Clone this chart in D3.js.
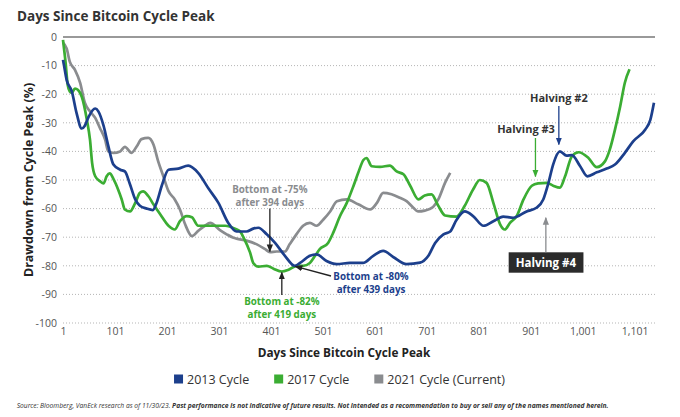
<!DOCTYPE html>
<html><head><meta charset="utf-8">
<script src="https://cdn.jsdelivr.net/npm/d3@7"></script>
<style>body{margin:0;background:#fff;} svg{display:block;font-family:"Open Sans",sans-serif;}</style>
</head><body><svg id="c" width="680" height="417"></svg>
<script>
// ---- data ----
const days2013 = [1,3,8,18,27,37,43,50,63,69,79,88,98,111,120,130,140,149,162,174,181,191,204,223,242,261,281,300,319,335,354,367,377,393,409,428,447,457,476,489,508,528,553,578,598,617,637,662,688,704,717,733,746,758,774,790,810,829,848,867,893,912,925,935,944,957,970,980,996,1010,1028,1047,1063,1082,1098,1121,1131,1138];
const vals2013 = [-8,-10,-15,-19,-26.5,-32,-31,-28,-25,-26,-31,-38,-44.6,-46.4,-47,-51.6,-56.8,-59,-60,-60.5,-58,-52,-46.4,-46,-45,-47.5,-53,-58,-65,-68,-68,-67,-66.7,-69,-72,-76.5,-80,-79,-76.5,-76,-78.3,-79.4,-79,-79,-76.5,-74.8,-77,-79.4,-78.9,-76.5,-72,-69,-68,-64,-61,-62.6,-66,-64.4,-62.8,-63.2,-61,-59.7,-56.8,-51,-44.6,-40,-41.5,-41.3,-45.2,-48.7,-47.3,-46,-44.6,-40.5,-36.5,-32.4,-29,-23];
const days2017 = [1,6,10,14,18,24,30,37,47,53,57,63,72,79,85,91,98,107,114,120,130,140,149,155,165,175,188,204,216,226,239,249,261,287,313,332,342,348,361,367,377,393,406,422,435,451,463,476,486,495,511,521,534,547,560,569,579,585,595,611,630,643,656,669,685,697,710,723,736,758,774,790,803,816,829,842,851,861,874,887,903,915,932,944,957,967,980,993,1012,1028,1044,1053,1063,1073,1082,1091];
const vals2017 = [-1,-9,-16.7,-19,-19.5,-18,-18.5,-20.8,-29,-36,-44,-48.7,-50.4,-51.2,-48.7,-47.7,-49.6,-53.3,-56.8,-60.3,-61,-58,-54.5,-54,-55.6,-58.5,-62,-66,-67.3,-64.4,-62.6,-63,-66,-66,-66,-67,-68,-70,-75.4,-79,-80.3,-80,-81,-82,-81.4,-80,-80,-79,-76.5,-74.2,-72,-68.4,-62.6,-58,-52,-47.5,-43,-42.3,-45.2,-45.4,-45,-47,-48,-52,-56.8,-55.4,-55,-59,-62.4,-62.8,-59,-53.3,-50,-51,-58,-65.5,-67.3,-65,-62.6,-56.8,-52,-51.2,-51,-52,-52.7,-48.7,-41.7,-40.3,-42.3,-45.5,-43.4,-39.4,-32.4,-24.3,-16,-11.3];
const days2021 = [1,8,14,24,34,43,53,63,72,82,88,98,111,120,133,143,152,165,175,184,194,204,216,226,236,249,261,274,284,303,316,329,335,354,374,390,399,412,428,437,450,463,476,489,502,515,528,547,569,592,605,617,633,649,662,675,684,697,713,723,736,746];
const vals2021 = [-2,-4,-8.6,-11.5,-16,-23,-26,-28.3,-31.8,-35.9,-40,-40.5,-40,-38.4,-40.5,-38.2,-35.7,-35.3,-37.6,-43.4,-48.7,-53.9,-56.8,-60.3,-65.5,-69.6,-67.8,-66,-65,-67.5,-69,-70.2,-70.5,-71.2,-72.5,-74.2,-75.2,-75,-75,-72.5,-69,-66,-65,-66,-63.8,-61,-57.4,-56.8,-58.5,-60.3,-58,-54.5,-55,-56.2,-57.4,-59.7,-61,-60.7,-59.4,-56.8,-51,-47.5];
const seriesNames = ["2013 Cycle","2017 Cycle","2021 Cycle (Current)"];
const xTicks = [1,101,201,301,401,501,601,701,801,901,1001,1101];
const yTicks = [0,-10,-20,-30,-40,-50,-60,-70,-80,-90,-100];
const title = "Days Since Bitcoin Cycle Peak";
const xTitle = "Days Since Bitcoin Cycle Peak";
const yTitle = "Drawdown from Cycle Peak (%)";
const sourceA = "Source: Bloomberg, VanEck research as of 11/30/23. ";
const sourceB = "Past performance is not indicative of future results. Not intended as a recommendation to buy or sell any of the names mentioned herein.";

const C13 = "#1c3f8c", C17 = "#3bad33", C21 = "#8a8c8f";

const svg = d3.select("#c");
const x = d3.scaleLinear().domain([1,1140]).range([63,655]);
const y = d3.scaleLinear().domain([0,-100]).range([37,323]);

// defs: arrow markers
const defs = svg.append("defs");
function marker(id, color){
  defs.append("marker").attr("id",id).attr("viewBox","0 0 10 10").attr("refX",9).attr("refY",5)
    .attr("markerWidth",6).attr("markerHeight",6).attr("orient","auto-start-reverse")
    .append("path").attr("d","M0,1 L10,5 L0,9 Z").attr("fill",color);
}
marker("aBlack","#222"); marker("aBlue",C13); marker("aGreen",C17); marker("aGray","#8a8c8f");

// title
svg.append("text").attr("x",17).attr("y",21).attr("font-size",13.5).attr("font-weight",700).attr("fill","#333").text(title);

// gridlines
svg.append("g").selectAll("line").data(yTicks.filter(d=>d!==0)).join("line")
  .attr("x1",x.range()[0]).attr("x2",x.range()[1]).attr("y1",d=>y(d)).attr("y2",d=>y(d))
  .attr("stroke","#b5b5b5").attr("stroke-width",1).attr("stroke-dasharray","1,2");
svg.append("line").attr("x1",x.range()[0]).attr("x2",x.range()[1]).attr("y1",y(0)).attr("y2",y(0))
  .attr("stroke","#777").attr("stroke-width",1.3);

// y axis
const yAxis = d3.axisLeft(y).tickValues(yTicks).tickSize(0).tickPadding(6).tickFormat(d=>String(d));
const gy = svg.append("g").attr("transform",`translate(${x.range()[0]},0)`).call(yAxis);
gy.select(".domain").remove();
gy.selectAll("text").attr("font-size",10.5).attr("fill","#555").attr("font-family","Open Sans");

// x axis
const xAxis = d3.axisBottom(x).tickValues(xTicks).tickSize(0).tickPadding(5).tickFormat(d3.format(","));
const gx = svg.append("g").attr("transform",`translate(0,${y(-100)})`).call(xAxis);
gx.select(".domain").remove();
gx.selectAll("text").attr("font-size",10.5).attr("fill","#555").attr("font-family","Open Sans");

// axis titles
svg.append("text").attr("x",344).attr("y",357).attr("text-anchor","middle").attr("font-size",11.8).attr("font-weight",700).attr("fill","#222").text(xTitle);
svg.append("text").attr("transform",`translate(33,${(y(0)+y(-100))/2}) rotate(-90)`).attr("text-anchor","middle")
  .attr("font-size",12.5).attr("font-weight",700).attr("fill","#222").text(yTitle);

// lines
const line = d3.line().x(d=>x(d[0])).y(d=>y(d[1])).curve(d3.curveMonotoneX);
const series = [
  {days:days2021, vals:vals2021, color:C21},
  {days:days2017, vals:vals2017, color:C17},
  {days:days2013, vals:vals2013, color:C13},
];
svg.append("g").selectAll("path").data(series).join("path")
  .attr("d",s=>line(s.days.map((d,i)=>[d,s.vals[i]])))
  .attr("fill","none").attr("stroke",s=>s.color).attr("stroke-width",2.7).attr("stroke-linejoin","round");

// annotations (each line its own text element)
function label(lines, cx, by, color, size, gap){
  lines.forEach((l,i)=>svg.append("text").attr("text-anchor","middle").attr("font-size",size).attr("font-weight",700)
    .attr("fill",color).attr("x",cx).attr("y",by+i*gap).text(l));
}
function arrow(x1,y1,x2,y2,color,mid){
  svg.append("line").attr("x1",x1).attr("y1",y1).attr("x2",x2).attr("y2",y2)
    .attr("stroke",color).attr("stroke-width",1.3).attr("marker-end",`url(#${mid})`);
}
// 2021 bottom
label(["Bottom at -75%","after 394 days"], x(399), 192.8, "#8a8c8f", 9.8, 13.4);
arrow(x(399), 208.5, x(399), y(-75), "#222", "aBlack");
// 2017 bottom
label(["Bottom at -82%","after 419 days"], x(422), 305, C17, 9.8, 13.4);
arrow(x(422), 295, x(422), y(-82.3), "#222", "aBlack");
// 2013 bottom
label(["Bottom at -80%","after 439 days"], 371, 280, C13, 9.8, 13.4);
arrow(331, 276, x(448), y(-80.2), "#222", "aBlack");
// Halvings
label(["Halving #2"], x(955), 101.5, "#333", 11, 0);
arrow(x(955), 106, x(955), y(-37.6), C13, "aBlue");
label(["Halving #3"], 526, 133, "#333", 11, 0);
arrow(x(910), 138, x(910), y(-48.8), C17, "aGreen");
// Halving #4 boxed
const h4 = svg.append("g");
const h4rect = h4.append("rect").attr("fill","#2b2b2b");
const h4t = h4.append("text").attr("x",x(930)).attr("y",266.5).attr("text-anchor","middle").attr("font-size",11.5).attr("font-weight",700).attr("fill","#fff").text("Halving #4");
const bb = h4t.node().getBBox();
h4rect.attr("x",bb.x-7).attr("y",252.3).attr("width",bb.width+14).attr("height",20.4);
arrow(x(930), 252.3, x(930), y(-63.2), "#8a8c8f", "aGray");

// legend
const leg = svg.append("g");
let lx = 0;
const legColors = [C13, C17, C21];
seriesNames.forEach((n,i)=>{
  const g = leg.append("g").attr("transform",`translate(${lx},0)`);
  g.append("rect").attr("x",0).attr("y",-4.5).attr("width",9).attr("height",9).attr("fill",legColors[i]);
  const t = g.append("text").attr("x",13).attr("y",4.5).attr("font-size",12.5).attr("fill","#333").text(n);
  lx += 13 + t.node().getComputedTextLength() + 25;
});
lx -= 25;
leg.attr("transform",`translate(${339.5 - lx/2},379)`);

// source note
const src = svg.append("text").attr("x",16.7).attr("y",408).attr("font-size",6.8).attr("font-style","italic").attr("fill","#333");
src.append("tspan").text(sourceA);
src.append("tspan").attr("font-weight",700).text(sourceB);
const w = src.node().getComputedTextLength();
src.attr("font-size", 6.8*593/w);
</script></body></html>
